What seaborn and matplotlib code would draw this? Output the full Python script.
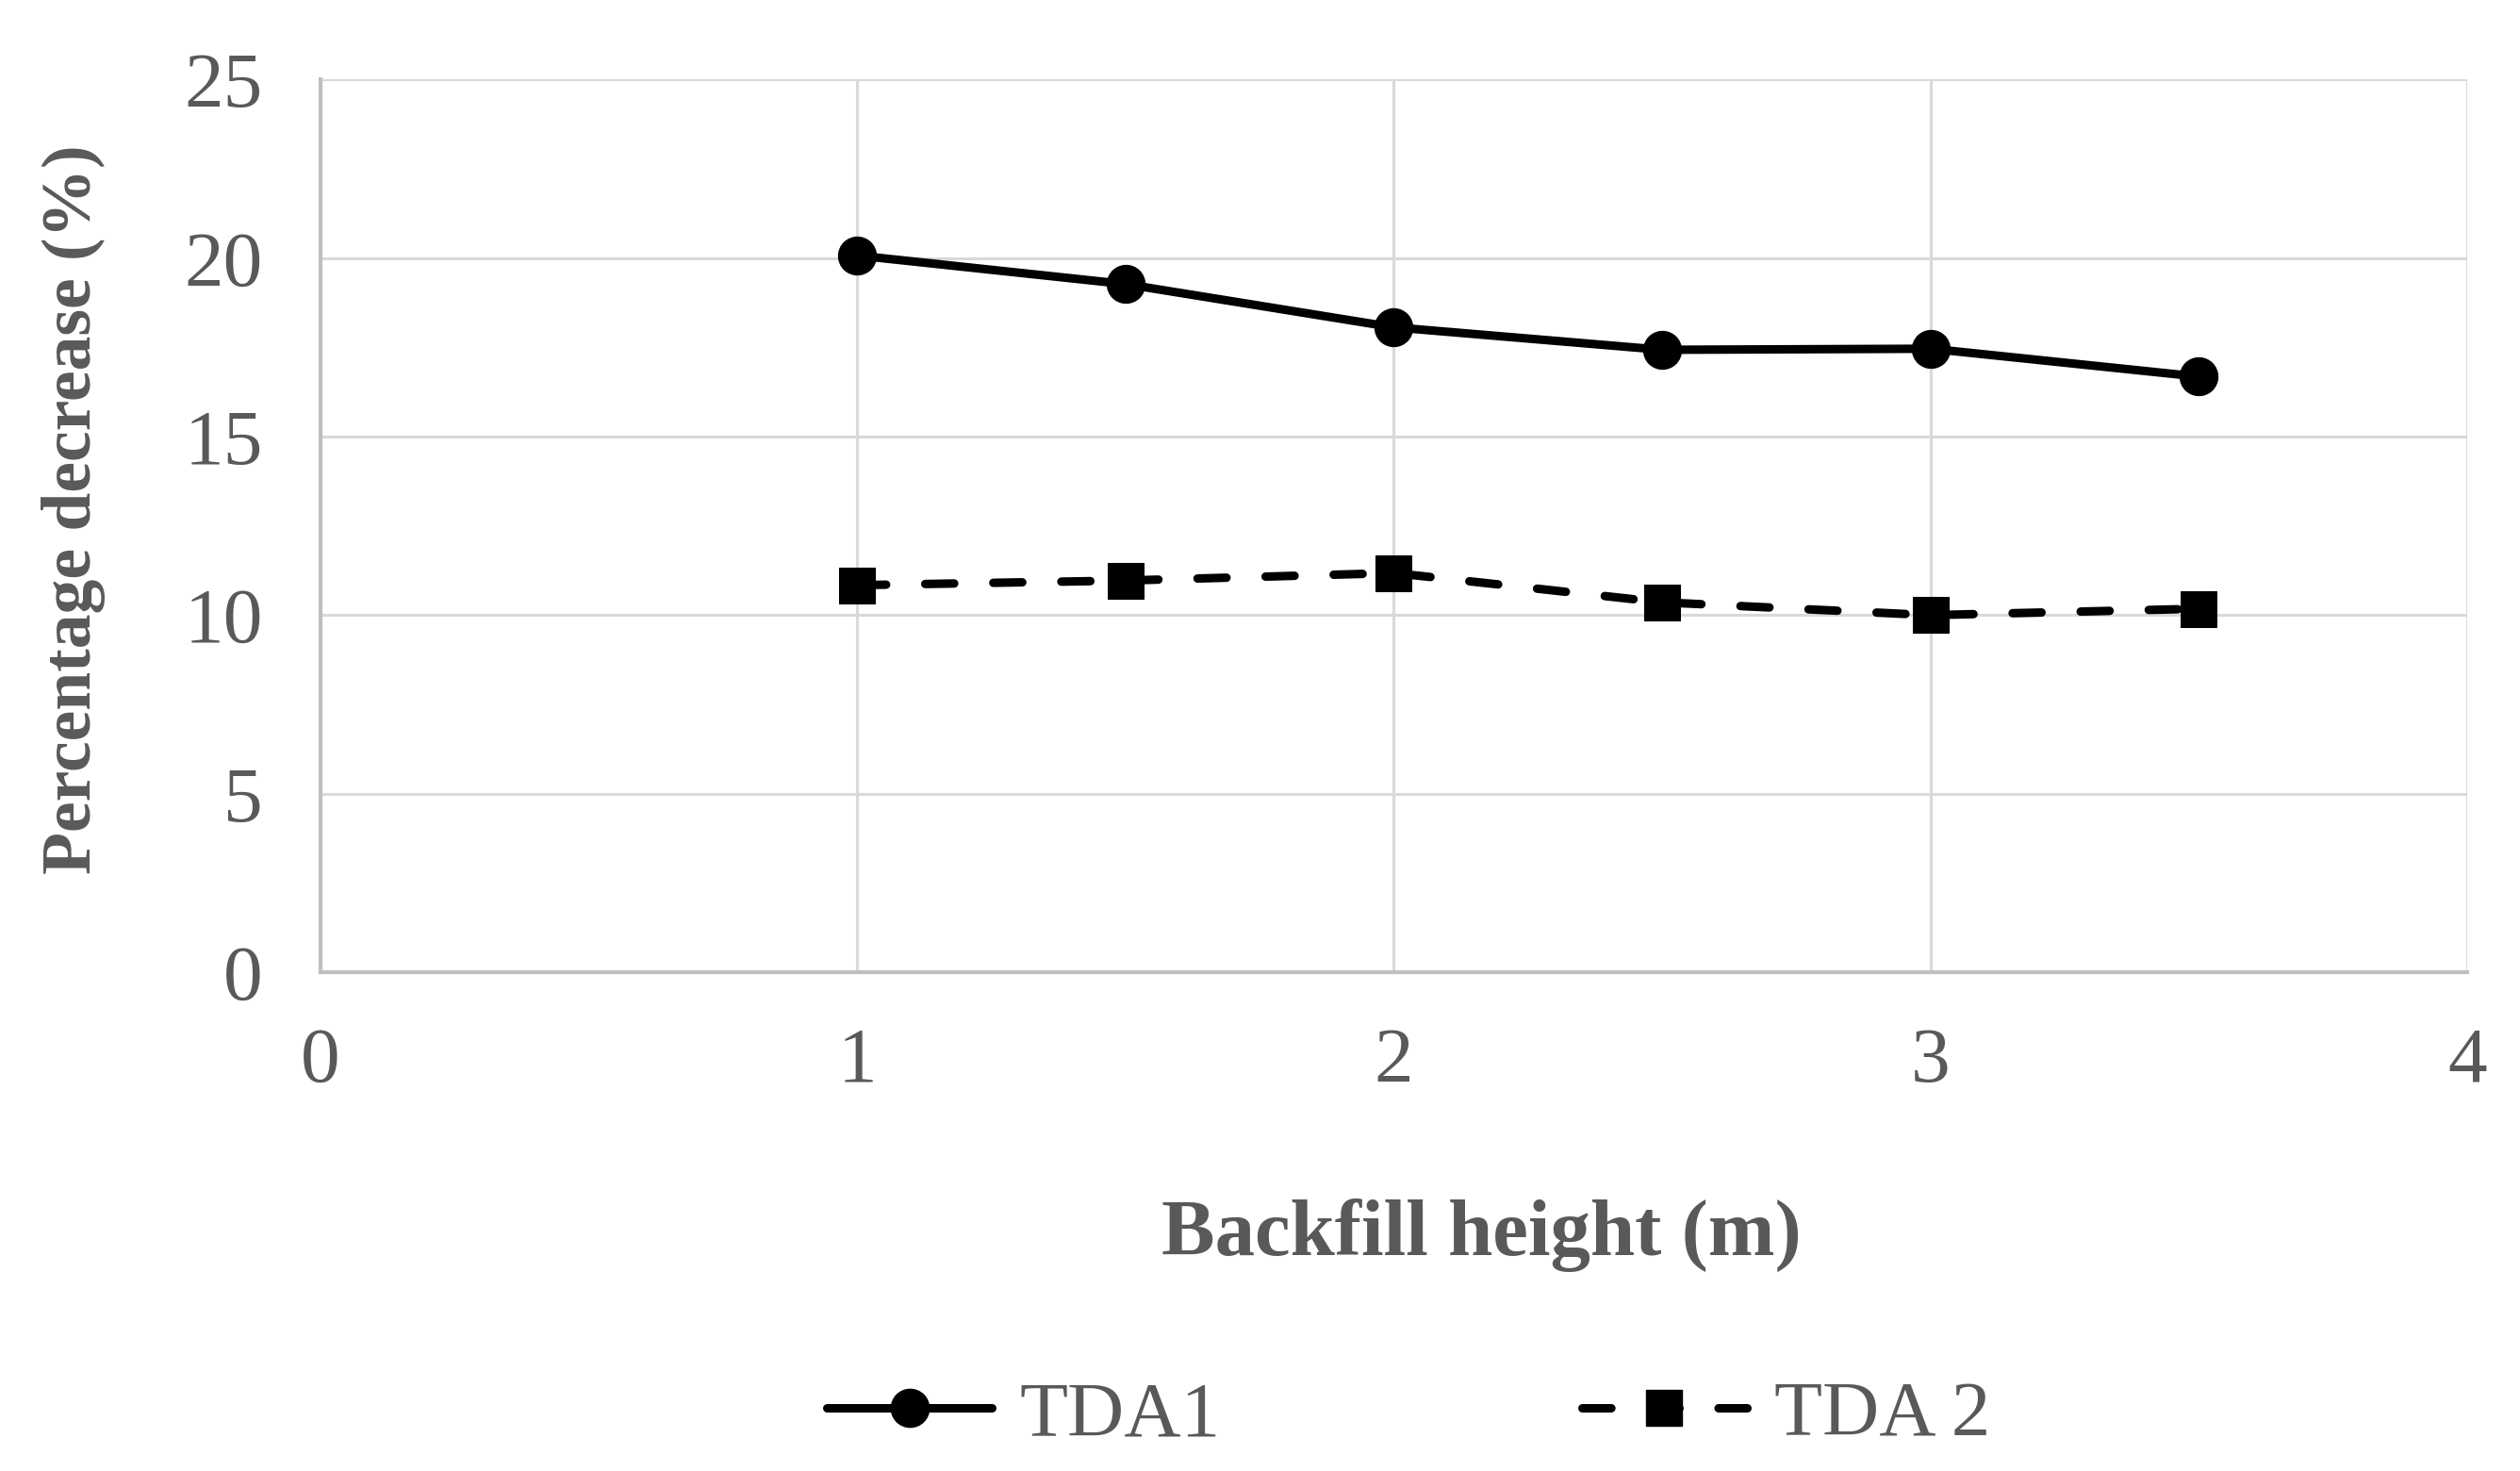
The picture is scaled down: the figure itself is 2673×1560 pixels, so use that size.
import matplotlib
matplotlib.use("Agg")
import matplotlib.pyplot as plt
import seaborn as sns
import pandas as pd
from matplotlib.lines import Line2D

heights = [1.0, 1.5, 2.0, 2.5, 3.0, 3.5]
tda1 = [20.07, 19.27, 18.06, 17.43, 17.46, 16.68]
tda2 = [10.84, 10.97, 11.18, 10.36, 10.00, 10.18]
series_names = ["TDA1", "TDA 2"]
x_ticks = [0, 1, 2, 3, 4]
y_ticks = [0, 5, 10, 15, 20, 25]

sns.set_theme(style="white")
plt.rcParams["font.family"] = ["Liberation Serif", "DejaVu Serif"]

df = pd.DataFrame({
    "x": heights * 2,
    "y": tda1 + tda2,
    "series": [series_names[0]] * len(heights) + [series_names[1]] * len(heights),
})

LW = 6.5
DASH = [3.4, 4.6]

fig = plt.figure(figsize=(26.73, 15.60), dpi=100)
ax = fig.add_axes([0.1272, 0.339, 0.979 - 0.1272, 0.946 - 0.339])

sns.lineplot(data=df[df.series == series_names[0]], x="x", y="y", ax=ax,
             color="black", linewidth=LW, marker="o", markersize=29,
             markeredgecolor="black", legend=False)
sns.lineplot(data=df[df.series == series_names[1]], x="x", y="y", ax=ax,
             color="black", linewidth=LW, marker="s", markersize=28,
             markeredgecolor="black", legend=False)
ax.lines[1].set_dashes(DASH)
ax.lines[1].set_dash_capstyle("round")

ax.set_xlim(0, 4)
ax.set_ylim(0, 25)
ax.set_xticks(x_ticks)
ax.set_yticks(y_ticks)
ax.set_xticklabels([str(t) for t in x_ticks])
ax.set_yticklabels([str(t) for t in y_ticks])
ax.grid(True, color="#d9d9d9", linewidth=2.2)
ax.set_axisbelow(True)
for s in ["top", "right"]:
    ax.spines[s].set_visible(False)
for s in ["left", "bottom"]:
    ax.spines[s].set_color("#bfbfbf")
    ax.spines[s].set_linewidth(3)
ax.tick_params(axis="both", length=0, labelsize=60, labelcolor="#595959")
ax.tick_params(axis="y", pad=44)
ax.tick_params(axis="x", pad=42)

ax.set_xlabel("Backfill height (m)", fontsize=61, fontweight="bold", color="#595959")
ax.set_ylabel("Percentage decrease (%)", fontsize=53, fontweight="bold", color="#595959")
ax.xaxis.set_label_coords(0.541, -0.253)
ax.yaxis.set_label_coords(-0.1, 0.518)

handles = [
    Line2D([], [], color="black", linewidth=LW, marker="o", markersize=29,
           solid_capstyle="round"),
    Line2D([], [], color="black", linewidth=LW, marker="s", markersize=28,
           dashes=DASH, dash_capstyle="round"),
]
fig.legend(handles, series_names, loc="center", bbox_to_anchor=(0.559, 1 - 1502 / 1560),
           ncol=2, frameon=False, fontsize=60, handlelength=2.1, columnspacing=4.6,
           handletextpad=0.35, labelcolor="#595959")

fig.savefig("out.png", dpi=100, facecolor="white")
